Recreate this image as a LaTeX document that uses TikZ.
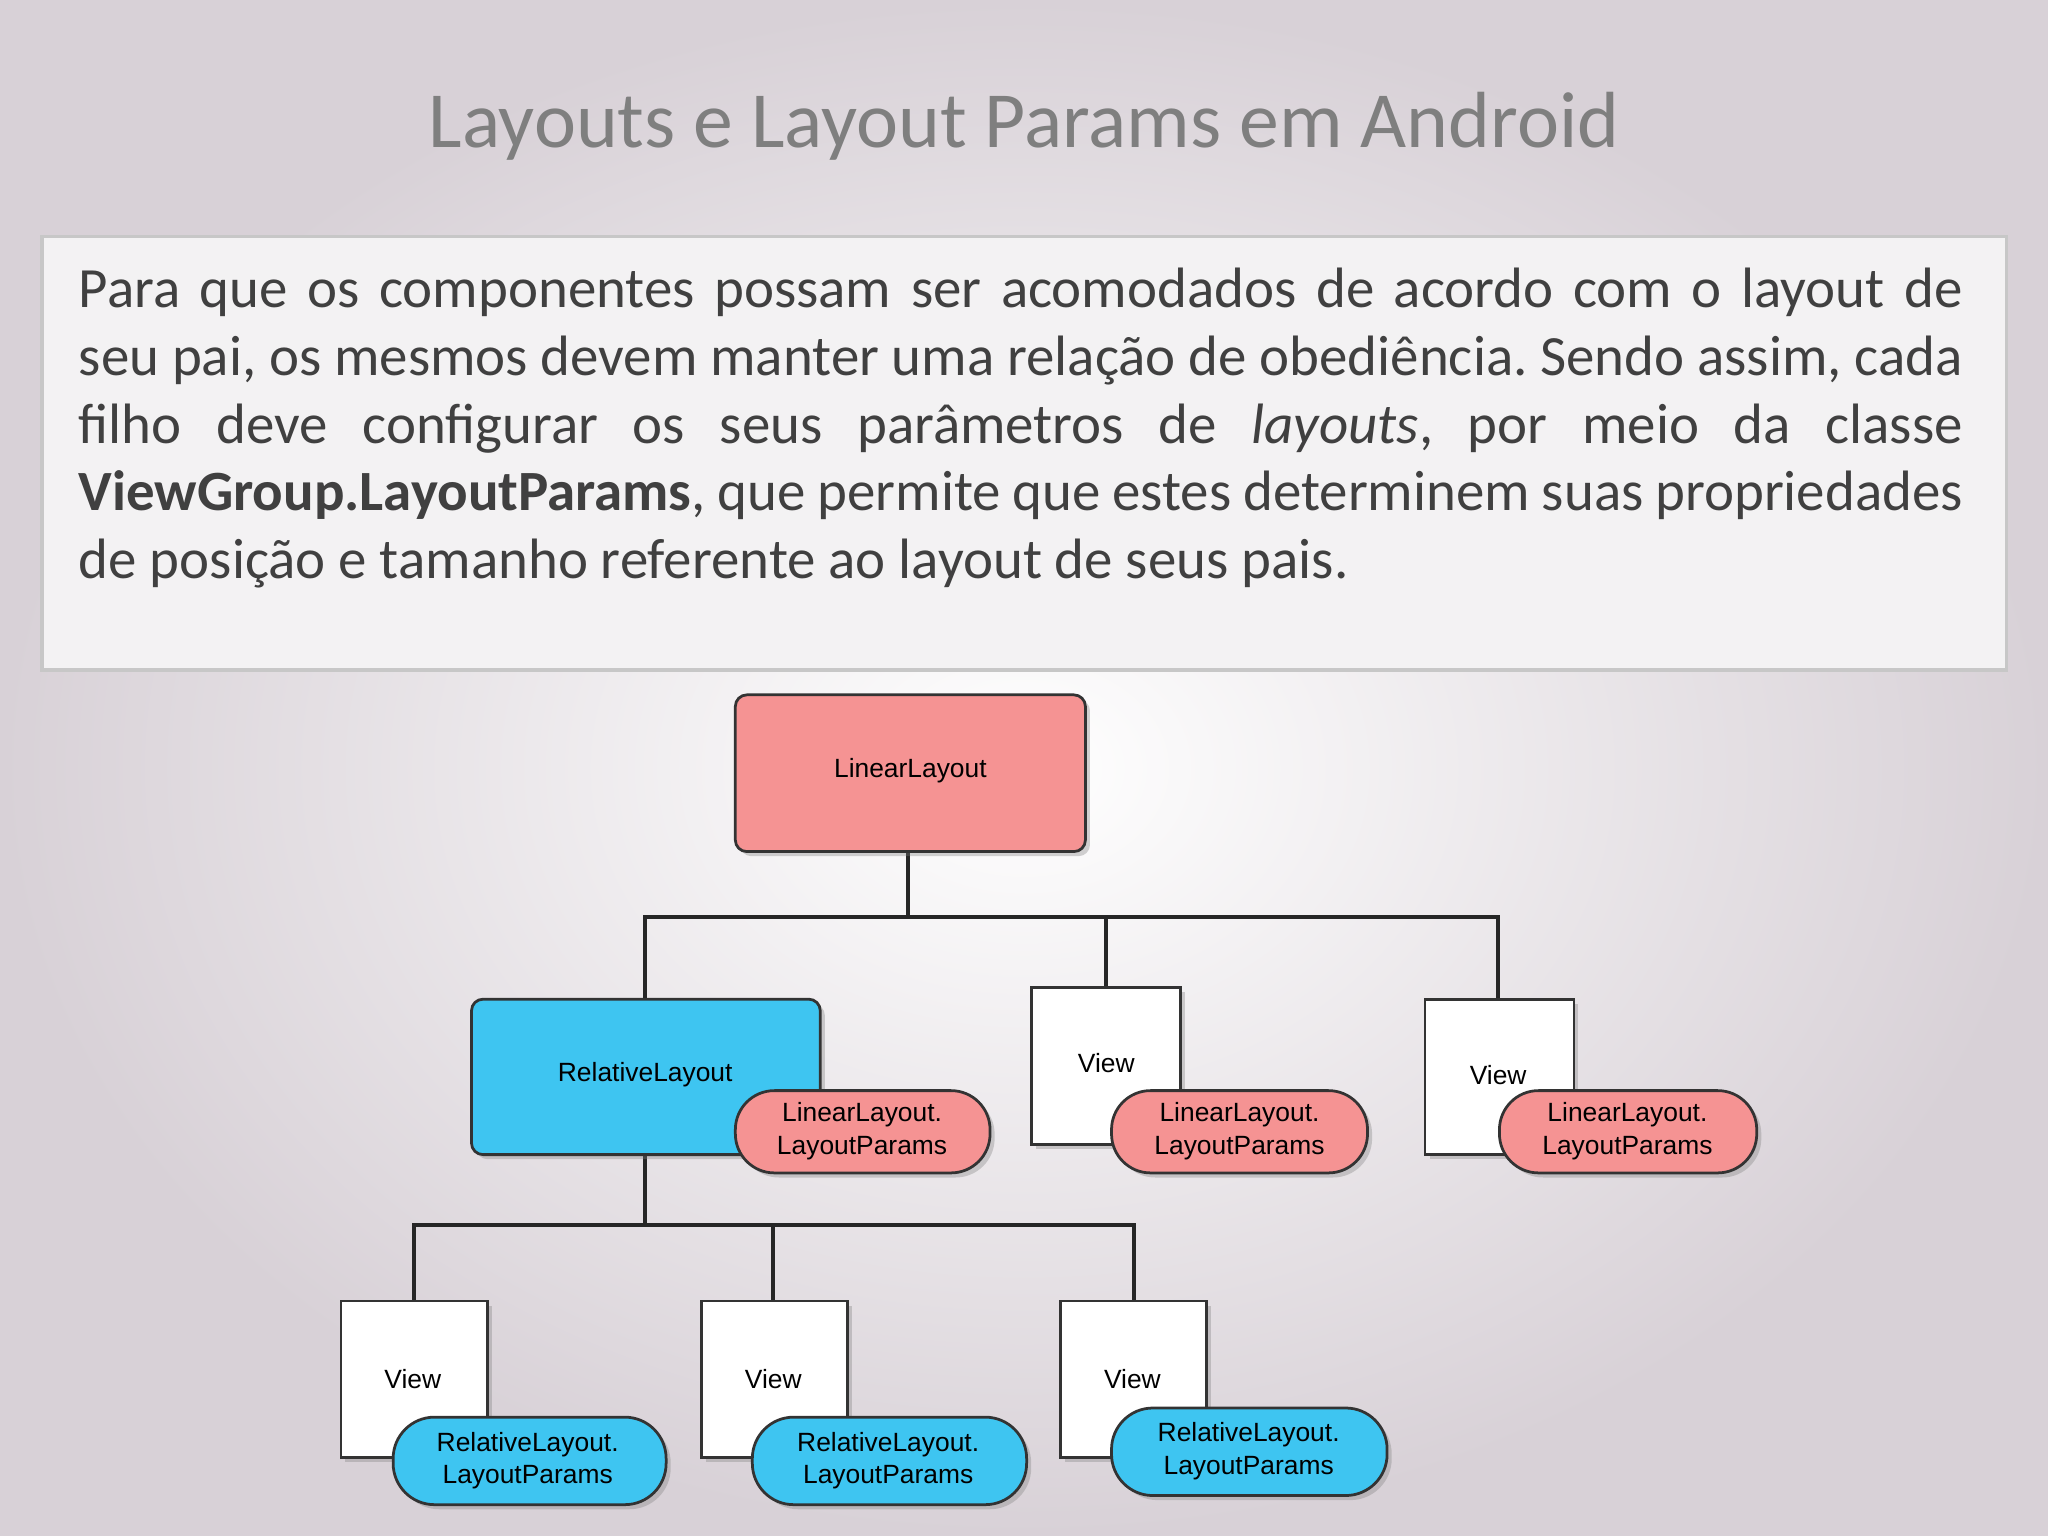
\documentclass[tikz,border=0pt]{standalone}
\usepackage{fontspec}
\setmainfont{Carlito}
\newfontfamily\diag{Liberation Sans}
\usetikzlibrary{shadows}
\definecolor{bgedge}{HTML}{D8D1D7}
\definecolor{salmon}{HTML}{F59393}
\definecolor{cyanb}{HTML}{3EC5F1}
\definecolor{boxfill}{HTML}{F3F2F3}
\definecolor{titlec}{HTML}{7F7F7F}
\definecolor{bodyc}{HTML}{404040}
\tikzset{
 x=0.02cm, y=-0.02cm,
 boxbase/.style={draw=black!80, line width=1.2pt, drop shadow={opacity=0.35, shadow xshift=2pt, shadow yshift=-2pt}},
 lab/.style={font=\diag\fontsize{11.5}{14}\selectfont, align=center},
 conn/.style={line width=1.6pt, black!85},
}
\begin{document}
\begin{tikzpicture}
\useasboundingbox (0,0) rectangle (1568,1176);
\shade[inner color=white, outer color=bgedge] (0,0) rectangle (1568,1176);
\node[text=titlec, font=\fontsize{34.7}{40}\selectfont] (title) at (784,97) {Layouts e Layout Params em Android};
\draw[draw=black!22, line width=1.5pt, fill=boxfill] (32,181) rectangle (1536,513);
\node[anchor=north west, inner sep=0pt, text width=821pt, align=justify, text=bodyc, font=\fontsize{24.8}{29.5}\selectfont] (body) at (60,205)
{\lefthyphenmin=62 \frenchspacing Para que os componentes possam ser acomodados de acordo com o layout de\linebreak seu pai, os mesmos devem manter uma relação de obediência. Sendo assim, cada\linebreak filho deve configurar os seus parâmetros de \textit{layouts}, por meio da classe\linebreak \textbf{ViewGroup.LayoutParams}, que permite que estes determinem suas propriedades\linebreak de posição e tamanho referente ao layout de seus pais.};
% connectors
\coordinate (j1) at (695,702);
\coordinate (j2) at (494,938);
\draw[conn] (695,652) -- (j1);
\draw[conn] (494,765) -- (494,702) -- (1147,702) -- (1147,765);
\draw[conn] (847,702) -- (847,756);
\draw[conn] (494,884) -- (j2);
\draw[conn] (317,996) -- (317,938) -- (868,938) -- (868,996);
\draw[conn] (592,938) -- (592,996);
% boxes
\draw[boxbase, fill=salmon, rounded corners=5pt] (563,532) rectangle (831,652);
\node[lab] (ll) at (697,590) {LinearLayout};
\draw[boxbase, fill=cyanb, rounded corners=5pt] (361,765) rectangle (628,884);
\node[lab] (rl) at (494,823) {RelativeLayout};
\draw[boxbase, fill=white] (790,756) rectangle (904,876);
\node[lab] (v1) at (847,814) {View};
\draw[boxbase, fill=white] (1091,765) rectangle (1205,884);
\node[lab] (v2) at (1147,823) {View};
\foreach \x/\n in {261/a,537/b,812/c}{
 \draw[boxbase, fill=white] (\x,996) rectangle (\x+112,1116);
 \node[lab] (w\n) at (\x+55,1056) {View};
}
% pills
\draw[boxbase, fill=salmon, rounded corners=17pt] (563,835) rectangle (758,898);
\node[lab] (p1) at (660,866) {LinearLayout.\\LayoutParams};
\draw[boxbase, fill=salmon, rounded corners=17pt] (851,835) rectangle (1047,898);
\node[lab] (p2) at (949,866) {LinearLayout.\\LayoutParams};
\draw[boxbase, fill=salmon, rounded corners=17pt] (1148,835) rectangle (1345,898);
\node[lab] (p3) at (1246,866) {LinearLayout.\\LayoutParams};
\draw[boxbase, fill=cyanb, rounded corners=18pt] (301,1085) rectangle (510,1152);
\node[lab] (q1) at (404,1118) {RelativeLayout.\\LayoutParams};
\draw[boxbase, fill=cyanb, rounded corners=18pt] (576,1085) rectangle (786,1152);
\node[lab] (q2) at (680,1118) {RelativeLayout.\\LayoutParams};
\draw[boxbase, fill=cyanb, rounded corners=18pt] (851,1078) rectangle (1062,1145);
\node[lab] (q3) at (956,1111) {RelativeLayout.\\LayoutParams};
\end{tikzpicture}
\end{document}
